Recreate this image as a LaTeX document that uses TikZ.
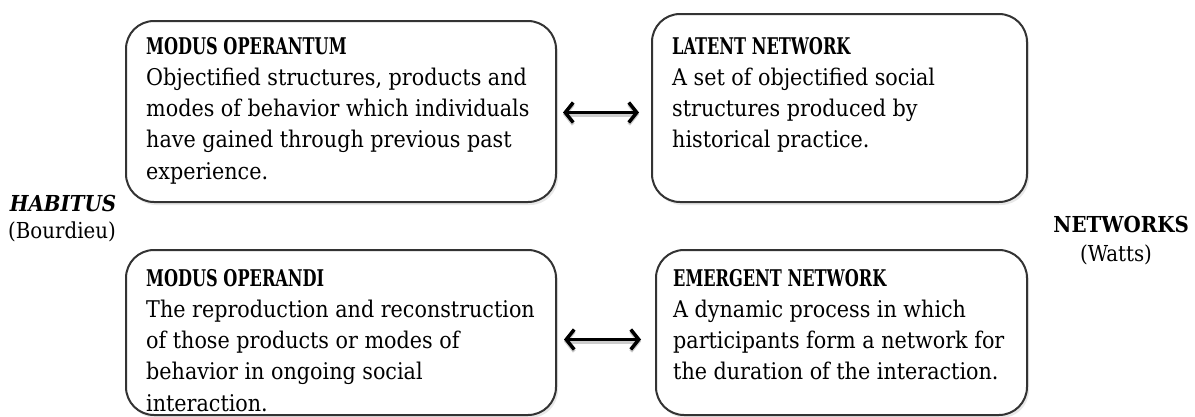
\documentclass[tikz,border=0pt]{standalone}
\usepackage{fontspec}
\setmainfont{DejaVu Serif Condensed}
\newfontfamily\ttlfont[FakeStretch=0.78]{DejaVu Serif Condensed Bold}
\usetikzlibrary{arrows.meta,shadows,calc}
\definecolor{boxline}{HTML}{333333}
\tikzset{
  box/.style={draw=boxline, line width=2pt, rounded corners=28pt, fill=white,
    inner sep=0pt, drop shadow={opacity=0.18, shadow xshift=2pt, shadow yshift=-3pt}},
  txt/.style={inner sep=0pt, align=left, anchor=north west,
    font=\fontsize{23}{31.2}\selectfont},
  ttl/.style={font=\fontsize{23.5}{31.2}\selectfont},
  side/.style={inner sep=0pt, align=center, font=\fontsize{22}{29}\selectfont},
  barb/.tip={Straight Barb[length=8pt,width=20pt,line width=3.5pt]},
  dbl/.style={line width=3.5pt, barb-barb,
    preaction={draw=black!20, line width=5pt, transform canvas={yshift=-2pt}}}
}
\begin{document}
\begin{tikzpicture}[x=1pt,y=-1pt]
\useasboundingbox (0,0) rectangle (1195,416);
\node[box, minimum width=430pt, minimum height=181pt] (b1) at (341,111.5) {};
\node[box, minimum width=375pt, minimum height=188pt] (b2) at (839.5,108) {};
\node[box, minimum width=430pt, minimum height=165pt] (b3) at (341,332.5) {};
\node[box, minimum width=371pt, minimum height=165pt] (b4) at (841.5,332.5) {};

\node[txt] (t1) at (146,37) {{\ttlfont MODUS OPERANTUM}\\Objectified structures, products and\\modes of behavior which individuals\\have gained through previous past\\experience.};
\node[txt] (t2) at (672,37) {{\ttlfont LATENT NETWORK}\\A set of objectified social\\structures produced by\\historical practice.};
\node[txt] (t3) at (146,269) {{\ttlfont MODUS OPERANDI}\\The reproduction and reconstruction\\of those products or modes of\\behavior in ongoing social\\interaction.};
\node[txt] (t4) at (673,269) {{\ttlfont EMERGENT NETWORK}\\A dynamic process in which\\participants form a network for\\the duration of the interaction.};

\node[side] (hab) at (63,203) {\textbf{\textit{HABITUS}}};
\node[side] (bou) at (62,232) {(Bourdieu)};
\node[side, anchor=east] (net) at (1189,224) {\textbf{NETWORKS}};
\node[side] (wat) at (1116,255) {(Watts)};

\coordinate (a1) at ($(b1.east)+(6,1)$);
\coordinate (a2) at ($(b1.east -| b2.west)+(-12,1)$);
\coordinate (a3) at ($(b3.east)+(7,7)$);
\coordinate (a4) at ($(b3.east -| b4.west)+(-14,7)$);
\draw[dbl] (a1) -- (a2);
\draw[dbl] (a3) -- (a4);
\end{tikzpicture}
\end{document}
